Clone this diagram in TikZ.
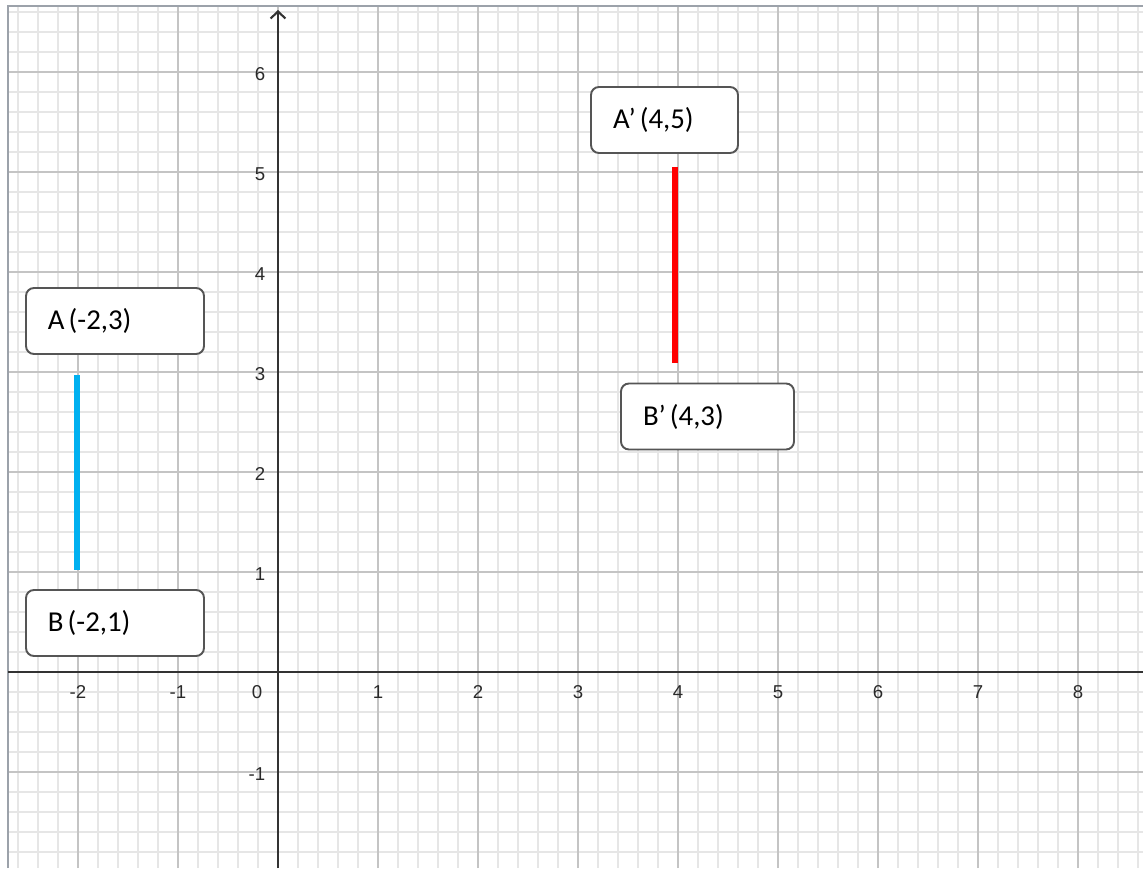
\documentclass[tikz,border=0pt]{standalone}
\usepackage{fontspec}
\setmainfont{Carlito}
\newfontfamily\tickfont{Liberation Sans}
\usetikzlibrary{arrows.meta}
\definecolor{minorgrid}{HTML}{E6E6E6}
\definecolor{majorgrid}{HTML}{C4C4C4}
\definecolor{axiscol}{HTML}{333333}
\definecolor{labcol}{HTML}{2A2A2A}
\definecolor{framecol}{HTML}{9CA2AA}
\definecolor{segblue}{HTML}{00B0F0}
\definecolor{segred}{HTML}{FF0000}
\definecolor{boxborder}{HTML}{555555}
\tikzset{
  minorline/.style={draw=minorgrid, line width=0.45pt},
  majorline/.style={draw=majorgrid, line width=0.45pt},
  axisline/.style={draw=axiscol, line width=0.6pt},
  framestyle/.style={draw=framecol, line width=0.6pt},
  ticklab/.style={font=\tickfont\fontsize{5.3pt}{6pt}\selectfont, text=labcol, inner sep=0pt},
  labelbox/.style={draw=boxborder, line width=0.55pt, fill=white, rounded corners=0.08cm,
    minimum height=0.66cm, inner xsep=0.22cm, inner ysep=0pt, align=left,
    font=\fontsize{8.2pt}{9.8pt}\selectfont, text=black},
  segment/.style={line width=1.7pt}
}
\newcommand{\gapsp}{\hspace{0.14em}}
\begin{document}
\begin{tikzpicture}
\useasboundingbox (-2.78,-1.96) rectangle (8.65,6.72);
% grid
\draw[minorline] (-2.70,-1.96) grid[step=0.2] (8.65,6.66);
\draw[majorline] (-2.70,-1.96) grid[step=1] (8.65,6.66);
% frame
\coordinate (FL) at (-2.70,-1.96);
\coordinate (FTL) at (-2.70,6.66);
\coordinate (FTR) at (8.65,6.66);
\draw[framestyle] (FL) -- (FTL) -- (FTR);
% axes
\coordinate (xl) at (-2.70,0);
\coordinate (xr) at (8.65,0);
\coordinate (yb) at (0,-1.96);
\coordinate (yt) at (0,6.62);
\draw[axisline] (xl) -- (xr);
\draw[axisline, -{Straight Barb[length=2pt,width=4.2pt]}] (yb) -- (yt);
% tick labels
\foreach \k in {-2,-1,1,2,3,4,5,6,7,8} {
  \node[ticklab] (xt\k) at (\k,-0.2) {\k};
}
\node[ticklab] (x0) at (-0.21,-0.2) {0};
\foreach \k in {-1,1,2,3,4,5,6} {
  \node[ticklab, anchor=east] (yt\k) at (-0.12,\k-0.02) {\k};
}
% segments
\coordinate (A) at (-2.01,2.97);
\coordinate (B) at (-2.01,1.02);
\coordinate (Ap) at (3.97,5.05);
\coordinate (Bp) at (3.97,3.09);
\draw[segment, segblue] (A) -- (B);
\draw[segment, segred] (Ap) -- (Bp);
% label boxes
\node[labelbox, text width=1.34cm] (boxA) at (-1.63,3.51) {A\gapsp(-2,3)};
\node[labelbox, text width=1.34cm] (boxB) at (-1.63,0.49) {B\gapsp(-2,1)};
\node[labelbox, text width=1.03cm] (boxAp) at (3.865,5.52) {A’\gapsp(4,5)};
\node[labelbox, text width=1.29cm] (boxBp) at (4.295,2.555) {B’\gapsp(4,3)};
\end{tikzpicture}
\end{document}
